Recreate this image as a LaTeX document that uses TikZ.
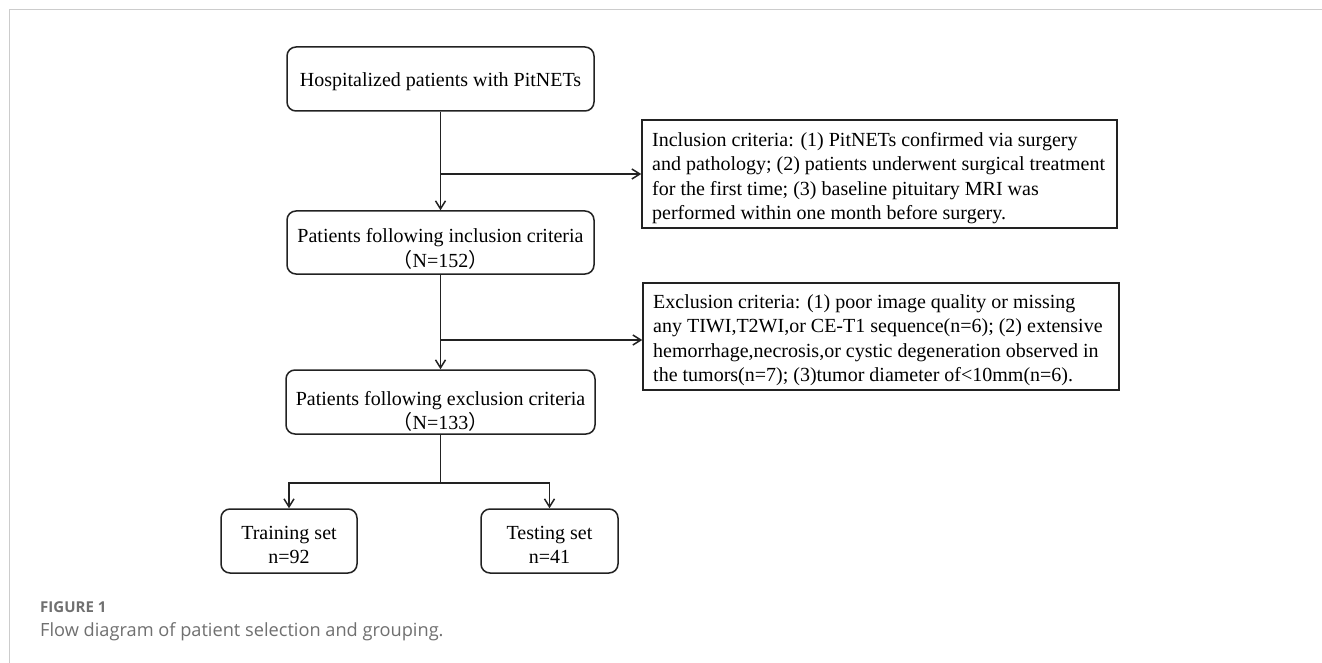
\documentclass[tikz,border=0pt]{standalone}
\usepackage{fontspec}
\setmainfont{Liberation Serif}
\newfontfamily\cjk{Noto Sans CJK SC}
\newfontfamily\capfont{Open Sans}
\usetikzlibrary{arrows.meta}
\definecolor{framegray}{HTML}{CCCCCC}
\definecolor{capgray}{HTML}{707070}
\definecolor{ink}{HTML}{222222}
\tikzset{
  rbox/.style={draw=ink, line width=1.5pt, rounded corners=9pt, inner sep=0pt},
  sbox/.style={draw=ink, line width=1.5pt, inner sep=0pt},
  txt/.style={inner sep=0pt, font=\fontsize{20}{24.5}\selectfont},
  conn/.style={draw=ink, line width=1.5pt, -{Straight Barb[length=8pt,width=10pt]}},
  stem/.style={draw=ink, line width=1.7pt},
  captxt/.style={inner sep=0pt, text=capgray, anchor=base west},
}
\begin{document}
\begin{tikzpicture}[x=1pt, y=-1pt]
\useasboundingbox (0,0) rectangle (1322,663);
\fill[white] (0,0) rectangle (1322,663);
% frame
\draw[framegray, line width=1pt] (9,663) -- (9,10) -- (1322,10);

% boxes
\node[rbox, minimum width=307pt, minimum height=64pt] (b1) at (440.5,79) {};
\node[rbox, minimum width=307pt, minimum height=63pt] (b2) at (440.5,242.5) {};
\node[rbox, minimum width=309pt, minimum height=64pt] (b3) at (440.5,402) {};
\node[rbox, minimum width=136pt, minimum height=64pt] (tr) at (289,541) {};
\node[rbox, minimum width=137pt, minimum height=64pt] (te) at (549.5,541) {};
\node[sbox, minimum width=475pt, minimum height=108pt] (inc) at (879.5,174) {};
\node[sbox, minimum width=476pt, minimum height=107pt] (exc) at (881,336.5) {};

% texts (base anchor = baseline of the last line)
\node[txt, anchor=base] (t1) at (440.5,87) {Hospitalized patients with PitNETs};
\node[txt, anchor=base, align=center] (t2) at (440.5,267) {Patients following inclusion criteria\\{\cjk （}N=152{\cjk ）}};
\node[txt, anchor=base, align=center] (t3) at (440.5,429.5) {Patients following exclusion criteria\\{\cjk （}N=133{\cjk ）}};
\node[txt, anchor=base, align=center] (t4) at (289,563.5) {Training set\\n=92};
\node[txt, anchor=base, align=center] (t5) at (549.5,563.5) {Testing set\\n=41};
\node[txt, anchor=base west, align=left] (t6) at (652,219.5) {Inclusion criteria: (1) PitNETs confirmed via surgery\\and pathology; (2) patients underwent surgical treatment\\for the first time; (3) baseline pituitary MRI was\\performed within one month before surgery.};
\node[txt, anchor=base west, align=left] (t7) at (653,381.5) {Exclusion criteria: (1) poor image quality or missing\\any TIWI,T2WI,or CE-T1 sequence(n=6); (2) extensive\\hemorrhage,necrosis,or cystic degeneration observed in\\the tumors(n=7); (3)tumor diameter of<10mm(n=6).};

% connectors
\draw[conn] (b1.south) -- (b2.north);
\coordinate (j1) at (b1.south |- inc.west);
\draw[conn] (j1) -- (inc.west);
\draw[conn] (b2.south) -- (b3.north);
\coordinate (j2) at (b2.south |- 0,340);
\draw[conn] (j2) -- (j2 -| exc.west);
\coordinate (j3) at (b3.south |- 0,483);
\draw[stem] (b3.south) -- (j3);
\draw[conn] (j3) -| (tr.north);
\draw[conn] (j3) -| (te.north);

% caption
\node[captxt, font=\capfont\bfseries\fontsize{15}{18}\selectfont] (cap1) at (40,612) {FIGURE 1};
\node[captxt, font=\capfont\fontsize{18.2}{22}\selectfont] (cap2) at (40,636) {Flow diagram of patient selection and grouping.};
\end{tikzpicture}
\end{document}
